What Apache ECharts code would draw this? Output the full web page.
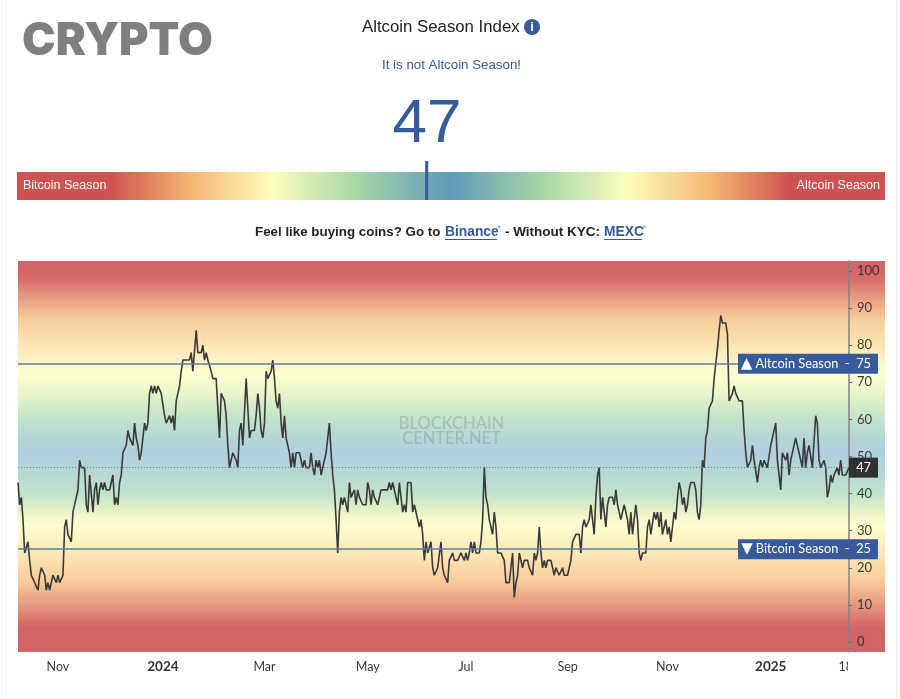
<!DOCTYPE html>
<html>
<head>
<meta charset="utf-8">
<title>Altcoin Season Index</title>
<script src="https://cdn.jsdelivr.net/npm/echarts@6/dist/echarts.min.js"></script>
<style>
  html, body { margin: 0; padding: 0; background: #fff; }
  #frame { position: absolute; left: 6px; top: 0; width: 889px; height: 699px; border-left: 1px solid #f3f3f3; border-right: 1px solid #ececec; }
  #chart { position: absolute; left: 0; top: 0; width: 900px; height: 699px; }
</style>
</head>
<body>
<div id="frame"></div>
<div id="chart"></div>
<script>
// Index readings, one per day, split into stretches of the timeline.
const firstDay = '2023-10-06';
const autumn2023 = [43,37,39,33,24,24,27,22,18,18,16,16,14,18,20,20,18,14,16,14,16,18,18,16,18,16,16,18,31,33,29,29,27,35,35,39,41,49,47,47,47,37,35,45,45,35,41,43,37,41,43,41,43,41,41,41,43,45,37,39,37,43,45,51,51,53,57,55,55,53,59,55,53,49,51,55,59,57,59,67,69,67,69,67,69,69,67,67,61,59,59,61,59,61,57,65,67,69,73,76,76,76,76,76,78,73,73,84,78,78,78,80,76,78,76,76,73,71,71,71,63,55,67,67,65,61,53,47];
const spring2024 = [47,51,51,49,47,57,59,53,53,71,63,55,57,57,57,61,67,63,57,55,59,73,71,71,73,76,71,65,63,67,59,55,61,55,55,51,47,51,47,51,51,51,51,47,49,47,47,47,51,47,45,49,47,49,45,47,47,51,55,59,51,45,41,33,24,35,39,37,39,39,35,43,39,39,41,37,41,39,39,37,37,37,43,41,37,41,39,39,37,37,41,41,41,41,41,43,41,43,43,39,37,43,39,35,37,35,43,43,43,35,37,35,35,31,33,29,22,27,24,24,27,20,18,18,20,20];
const summer2024 = [27,20,18,18,16,22,22,24,22,22,22,22,24,24,22,24,22,24,27,24,27,24,24,24,27,33,47,39,37,33,33,29,35,31,24,24,24,24,22,16,16,16,16,24,12,16,18,24,24,20,22,22,22,20,20,18,24,22,24,31,24,20,22,20,22,22,22,22,18,20,20,18,18,20,18,18,18,20,22,27,27,29,29,29,24,31,33,31,31,33,37,33,29,39,45,47,33,39,35,31,37,39,39,39,37,41,37,35,33,35,37,37,33,29,35,29,33,37,33,24,22,24,24,24,31,33,29,29,35,33,35,31];
const winter2024 = [35,29,29,33,29,31,27,31,35,33,39,43,41,37,39,35,37,41,43,43,43,41,35,33,37,49,47,55,57,63,63,65,71,71,79,84,88,86,86,86,83,65,65,67,69,67,67,65,65,65,57,51,47,47,49,53,49,49,43,47,49,47,49,49,47,47,53,55,55,59,49,45,41,51,51,49,51,45,49,49,53,55,53,51,51,47,55,47,51,53,53,47,47,61,59,49,47,47,49,47,39,41,45,43,45,45,47,45,49,45,45,45,45,47];
const indexValues = [...autumn2023, ...spring2024, ...summer2024, ...winter2024];
const currentIndex = 47;
const altcoinThreshold = 75;
const bitcoinThreshold = 25;

const dayLabels = indexValues.map((_, i) => {
  const d = new Date(firstDay + 'T00:00:00Z');
  d.setUTCDate(d.getUTCDate() + i);
  return d.toISOString().slice(0, 10);
});

// Bottom axis labels and the day each one sits on; the last is cut off at the scale edge.
const timeTickLabels = ['Nov', '{year|2024}', 'Mar', 'May', 'Jul', 'Sep', 'Nov', '{year|2025}', '18'];
const timeTickDays = [24, 87, 148, 210, 269, 330, 390, 452, indexValues.length - 3];
const tickLabelByDay = new Map(timeTickDays.map((day, i) => [dayLabels[day], timeTickLabels[i]]));
const valueTicks = [0, 10, 20, 30, 40, 50, 60, 70, 80, 90, 100];

const BLUE = '#365a9b';
const AXIS_FONT = 'Lato, "Open Sans", sans-serif';
const UI_FONT = '"Liberation Sans", Arial, sans-serif';

// Rainbow bands behind the history, top to bottom of the plot.
const plotBands = [
  [0.00, '#d46365'], [0.04, '#d76769'], [0.10, '#e9a183'], [0.147, '#f8cb9a'], [0.215, '#fde5b3'],
  [0.286, '#ffffd0'], [0.343, '#e6f4c8'], [0.394, '#c6e5c9'], [0.458, '#b3d4d6'], [0.489, '#b1cfdf'],
  [0.535, '#b4d5d6'], [0.598, '#c3e4ca'], [0.642, '#e8f3c8'], [0.675, '#ffffd0'], [0.752, '#fde6b5'],
  [0.818, '#f9cc9a'], [0.870, '#e9a083'], [0.939, '#d46365'], [1.00, '#d46365']
];
// Left-to-right colours of the gauge bar.
const gaugeBands = [
  [0.00, '#ce5252'], [0.107, '#ce5252'], [0.199, '#f4b66f'], [0.295, '#fdfdbe'], [0.392, '#a5d7a6'],
  [0.499, '#5f9ab8'], [0.606, '#a5d7a6'], [0.703, '#fdfdbe'], [0.802, '#f4b66f'], [0.89, '#ce5252'], [1.00, '#ce5252']
];
const toStops = bands => bands.map(([offset, color]) => ({ offset, color }));

const text = (x, y, t, style) => ({ type: 'text', x, y, silent: true, z: style.z || 10, style: { text: t, verticalAlign: 'middle', fontFamily: UI_FONT, ...style } });
const rule = (x1, x2, y, stroke) => ({ type: 'line', silent: true, z: 10, shape: { x1, x2, y1: y, y2: y }, style: { stroke, lineWidth: 1 } });

const thresholdLabel = {
  width: 124, padding: [2, 7, 2, 9], backgroundColor: BLUE,
  rich: { tri: { fontFamily: '"DejaVu Sans", sans-serif', fontSize: 15, color: '#fff', padding: [0, 3, 0, 0] } }
};

const chart = echarts.init(document.getElementById('chart'), null, { renderer: 'canvas' });
chart.setOption({
  animation: false,
  backgroundColor: 'transparent',
  grid: [
    { left: 18, width: 867, top: 261, height: 391, show: true, borderWidth: 0, backgroundColor: { type: 'linear', x: 0, y: 0, x2: 0, y2: 1, colorStops: toStops(plotBands) } },
    { left: 18, width: 831, top: 261, height: 391, show: false },
    { left: 17, width: 868, top: 172, height: 28, show: true, borderWidth: 0, backgroundColor: { type: 'linear', x: 0, y: 0, x2: 1, y2: 0, colorStops: toStops(gaugeBands) } }
  ],
  xAxis: [
    { gridIndex: 0, type: 'value', show: false },
    {
      gridIndex: 1, type: 'category', data: dayLabels, boundaryGap: false,
      axisLine: { show: false }, axisTick: { show: false }, splitLine: { show: false },
      axisLabel: {
        interval: (i, day) => tickLabelByDay.has(day),
        formatter: day => tickLabelByDay.get(day) || '',
        margin: 8, color: '#3a3a3a', fontSize: 12.5, fontFamily: AXIS_FONT,
        rich: { year: { fontWeight: 'bold', color: '#333', fontSize: 13.5, fontFamily: AXIS_FONT } }
      }
    },
    { gridIndex: 2, type: 'value', show: false, min: -0.2, max: 99.8 }
  ],
  yAxis: [
    { gridIndex: 0, type: 'value', show: false },
    {
      gridIndex: 1, type: 'value', position: 'right', min: -2.7, max: 102.7,
      splitLine: { show: false },
      axisLine: { show: true, lineStyle: { color: '#838383', width: 1.5 } },
      axisTick: { show: true, length: 3, lineStyle: { color: '#666' }, customValues: valueTicks },
      axisLabel: { margin: 8, color: '#3a3a3a', fontSize: 13, fontFamily: AXIS_FONT, customValues: valueTicks }
    },
    { gridIndex: 2, type: 'value', show: false, min: 0, max: 1 }
  ],
  series: [
    {
      type: 'line', name: 'Altcoin Season Index', xAxisIndex: 1, yAxisIndex: 1, data: indexValues,
      showSymbol: false, smooth: false, z: 3,
      lineStyle: { color: '#3a3a3a', width: 1.6 },
      markLine: {
        silent: true, symbol: 'none', animation: false,
        data: [
          {
            yAxis: altcoinThreshold,
            lineStyle: { color: '#5f7ba6', width: 1.5, type: 'solid' },
            label: { ...thresholdLabel, formatter: '{tri|▲}Altcoin Season  -  ' + altcoinThreshold }
          },
          {
            yAxis: bitcoinThreshold,
            lineStyle: { color: '#5f7ba6', width: 1.5, type: 'solid' },
            label: { ...thresholdLabel, formatter: '{tri|▼}Bitcoin Season  -  ' + bitcoinThreshold }
          },
          {
            yAxis: currentIndex,
            lineStyle: { color: '#6f7f86', width: 1, type: [1, 2] },
            label: { formatter: String(currentIndex), width: 22, padding: [2, 7, 2, 0], backgroundColor: '#303030' }
          }
        ],
        label: {
          show: true, position: 'end', distance: 29, align: 'right', verticalAlign: 'middle',
          color: '#fff', fontSize: 12.8, lineHeight: 16, fontFamily: AXIS_FONT
        }
      }
    },
    {
      type: 'line', name: 'Gauge marker', xAxisIndex: 2, yAxisIndex: 2, clip: false,
      data: [[currentIndex, 0], [currentIndex, 1.39]], showSymbol: false, z: 4,
      lineStyle: { color: BLUE, width: 3, cap: 'butt' }
    }
  ],
  graphic: [
    text(22, 41.5, 'CRYPTO', { fontFamily: 'Inter, "Liberation Sans", sans-serif', fontSize: 45, fontWeight: 900, fill: '#7f7f7f' }),
    text(362, 27.5, 'Altcoin Season Index', { fontSize: 16.8, fill: '#222' }),
    { type: 'circle', silent: true, z: 10, shape: { cx: 532, cy: 27, r: 8 }, style: { fill: BLUE } },
    text(532, 27.5, 'i', { fontSize: 13, fontWeight: 'bold', fill: '#fff', align: 'center' }),
    text(451.5, 65, 'It is not Altcoin Season!', { fontSize: 13.3, fill: BLUE, align: 'center' }),
    text(427, 125, String(currentIndex), { fontSize: 62, fill: BLUE, align: 'center' }),
    text(23, 185.5, 'Bitcoin Season', { fontSize: 12.5, fill: '#fff', z: 20 }),
    text(880, 185.5, 'Altcoin Season', { fontSize: 12.5, fill: '#fff', align: 'right', z: 20 }),
    text(255, 232, 'Feel like buying coins? Go to', { fontSize: 13.35, fontWeight: 'bold', fill: '#222' }),
    text(445, 232, 'Binance', { fontSize: 13.8, fontWeight: 'bold', fill: BLUE }),
    rule(445, 497, 239.5, BLUE),
    text(497, 230, '*', { fontSize: 11, fill: '#6fb7e6' }),
    text(505, 232, '- Without KYC:', { fontSize: 13.5, fontWeight: 'bold', fill: '#222' }),
    text(604, 232, 'MEXC', { fontSize: 13.8, fontWeight: 'bold', fill: BLUE }),
    rule(604, 642, 239.5, BLUE),
    text(642, 230, '*', { fontSize: 11, fill: '#6fb7e6' }),
    text(451.5, 423.5, 'BLOCKCHAIN', { fontFamily: 'Lato, Inter, sans-serif', fontSize: 16.5, fontWeight: 500, fill: 'rgba(85,110,120,0.26)', align: 'center', z: 1 }),
    text(451.5, 439, 'CENTER.NET', { fontFamily: 'Lato, Inter, sans-serif', fontSize: 16.5, fontWeight: 500, fill: 'rgba(85,110,120,0.26)', align: 'center', z: 1 }),
    { type: 'rect', silent: true, z: 100, shape: { x: 848, y: 654, width: 30, height: 24 }, style: { fill: '#fff' } }
  ]
});
</script>
</body>
</html>
